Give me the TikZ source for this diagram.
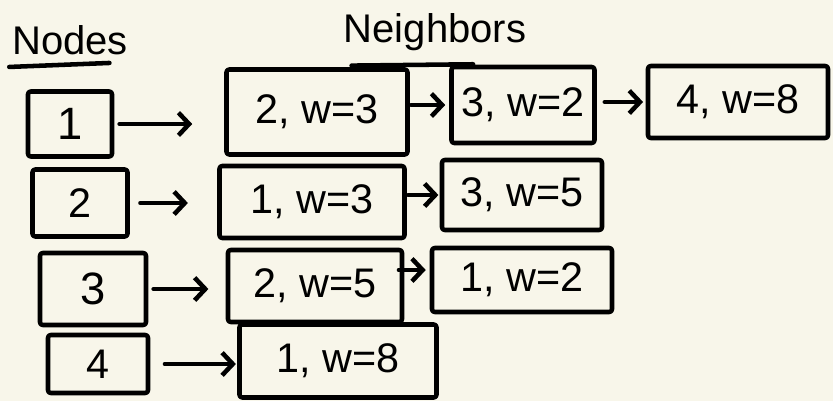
\documentclass[tikz,border=0pt]{standalone}
\usepackage{fontspec}
\setmainfont{Liberation Sans}
\usetikzlibrary{arrows.meta}
\definecolor{paper}{RGB}{248,246,234}
\tikzset{
  hand/.style={line width=3.4pt, line cap=round, line join=round},
  cell/.style={hand, draw, inner sep=0pt, font=\fontsize{31}{33}\selectfont, rounded corners=2pt},
  link/.style={hand, -{Straight Barb[length=8pt,width=17pt,line width=3.4pt]}},
  title/.style={font=\fontsize{30}{32}\selectfont, inner sep=0pt}
}
\begin{document}
\begin{tikzpicture}[x=0.75pt,y=-0.75pt]
\fill[paper] (0,0) rectangle (833,401);
\useasboundingbox (0,0) rectangle (833,401);
% titles
\node[title] (tn) at (70,40) {Nodes};
\node[title] (tg) at (435,32) {Neighbors};
\draw[hand] ([xshift=-2pt,yshift=-9pt]tn.south west) -- ([xshift=-14pt,yshift=-6pt]tn.south east);
\draw[hand] ([xshift=6pt,yshift=-11pt]tg.south west) -- ([xshift=-40pt,yshift=-10pt]tg.south east);
% node column
\node[cell, font=\fontsize{34}{36}\selectfont, minimum width=63pt, minimum height=48.75pt] (v1) at (70,124) {1};
\node[cell, minimum width=71.25pt, minimum height=50.25pt] (v2) at (80,203) {2};
\node[cell, font=\fontsize{34}{36}\selectfont, minimum width=79.5pt, minimum height=54pt] (v3) at (93,289) {3};
\node[cell, minimum width=75pt, minimum height=43.5pt] (v4) at (98,364) {4};
% neighbours
\node[cell, minimum width=135.75pt, minimum height=63.75pt] (a1) at (317,112) {\raisebox{-6pt}{2, w=3}};
\node[cell, minimum width=107.25pt, minimum height=57pt] (b1) at (523,105) {3, w=2};
\node[cell, minimum width=135pt, minimum height=54pt] (c1) at (738,102) {4, w=8};
\node[cell, minimum width=138.75pt, minimum height=54pt] (a2) at (312,202) {1, w=3};
\node[cell, minimum width=120pt, minimum height=52.5pt] (b2) at (522,195) {3, w=5};
\node[cell, minimum width=130.5pt, minimum height=54pt] (a3) at (315,286) {2, w=5};
\node[cell, minimum width=135pt, minimum height=48pt] (b3) at (522,280) {1, w=2};
\node[cell, minimum width=147.75pt, minimum height=54.75pt] (a4) at (338,361) {1, w=8};
% links
\draw[link, shorten <=4pt, shorten >=24pt] (v1.east) -- (a1.west |- v1.east);
\draw[link, shorten <=1pt, shorten >=3pt] (a1.east |- b1.east) -- (b1.west);
\draw[link, shorten <=6pt, shorten >=2pt] (b1.east |- c1.east) -- (c1.west);
\draw[link, shorten <=8pt, shorten >=22pt] (v2.east) -- (a2.west |- v2.east);
\draw[link, shorten <=1pt, shorten >=1pt] (a2.east |- b2.east) -- (b2.west);
\draw[link, shorten <=4pt, shorten >=13pt] (v3.east) -- (a3.west |- v3.east);
\draw[link, shorten <=-4pt, shorten >=3pt] ([yshift=12pt]a3.east) -- ([yshift=7.5pt]b3.west);
\draw[link, shorten <=11pt, shorten >=1pt] (v4.east) -- (a4.west |- v4.east);
\end{tikzpicture}
\end{document}
